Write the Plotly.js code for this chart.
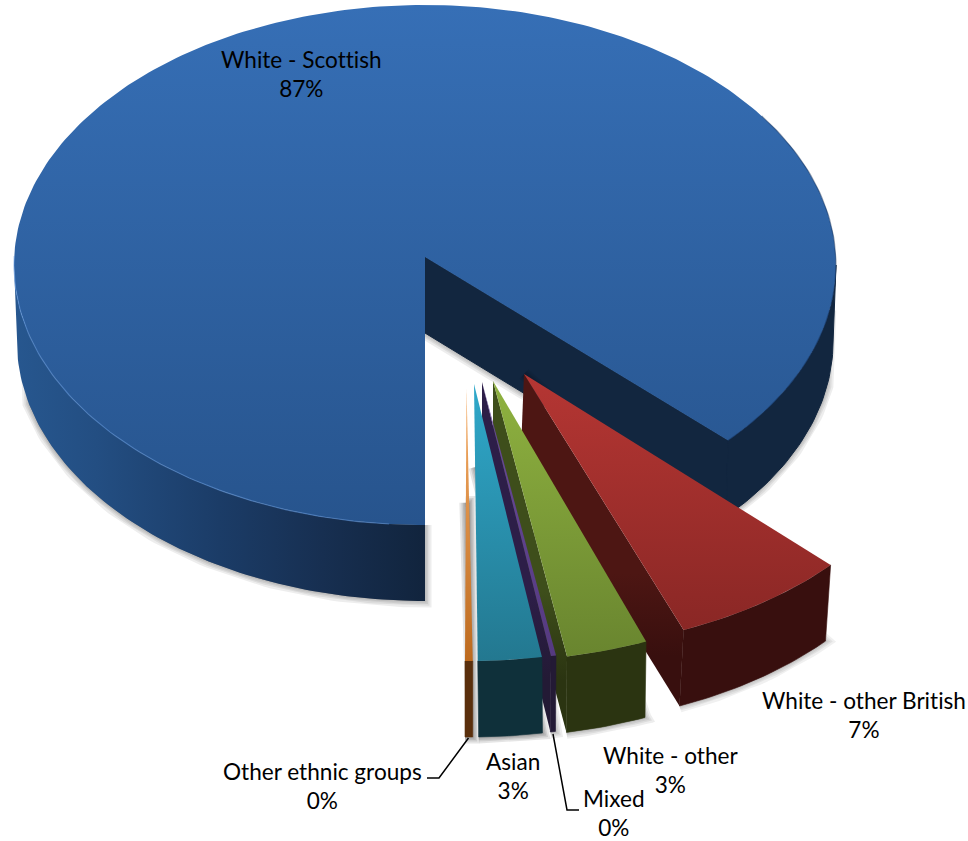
<!DOCTYPE html>
<html><head><meta charset="utf-8">
<script src="https://cdn.plot.ly/plotly-3.0.1.min.js"></script>
<style>html,body{margin:0;padding:0;background:#fff}#c{width:968px;height:841px}
svg text{font-variant-ligatures:none !important;font-feature-settings:"liga" 0,"clig" 0 !important}</style>
</head><body><div id="c"></div>
<script>
// ---- data ----
const categories = ["White - Scottish","White - other British","White - other","Mixed","Asian","Other ethnic groups"];
const values = [86.8, 7, 3.2, 0.2, 2.5, 0.3];

// ---- style / layout configuration ----
const topColors  = [["#366fb6","#27548d"],["#b53633","#8a2725"],["#8fb240","#69852f"],["#6a4a9e","#553a80"],["#2fa8ca","#237890"],["#f6ae68","#bd6a1e"]];
const innerColors= ["#12263f","#4d1613","#3e4e1b","#2d1e48","#14505f","#5a2f0c"];
const outerColors= ["#12263f","#380f0e","#2b3411","#231a35","#0f303a","#5a2f0c"];
const apexes   = [[425,257],[524,374],[493,381],[482,382],[474,384],[466.5,388]];
const centres  = [[425,265],[527.5,389.5],[490,401],[479,400],[470,401],[465,401]];
const wallDx   = [0,-3,0,0,1,0];
const shadowFrom = [0,0,0.55,0.6,0.3,0.42];
const shadowAlpha = [0.07,0.06,0.07,0.07,0.1,0.1];
const RX = 411, RY = 260, DEPTH = 76, BOTTOM_SCALE = 0.993;
const labelX = [301.5,864,670,614,513,322.5];
const labelY = [73.5,715,770,813,776,785.5];
const leaderOtherX=[468.5,439,427], leaderOtherY=[738,778,778];
const leaderMixedX=[553,567,579], leaderMixedY=[734,810,810];
const FONT = "Lato, Carlito, sans-serif", FONT_SIZE = 22.6;

// ---- geometry from the values ----
const total = values.reduce((a,b)=>a+b,0);
let cum = 90;
const spans = values.map(v=>{const s=cum; cum+=v/total*360; return [s,cum];});
const rad = d=>d*Math.PI/180;
function arcPts(i,a0,a1,bottom){
  const n=Math.max(2,Math.ceil(Math.abs(a1-a0))+1), xs=[], ys=[], c=centres[i];
  for(let k=0;k<n;k++){
    const a=rad(a0+(a1-a0)*k/(n-1));
    if(bottom){xs.push(c[0]+wallDx[i]+BOTTOM_SCALE*RX*Math.cos(a)); ys.push(c[1]+DEPTH+RY*Math.sin(a));}
    else{xs.push(c[0]+RX*Math.cos(a)); ys.push(c[1]+RY*Math.sin(a));}
  }
  return [xs,ys];
}
const traces=[];
function poly(xs,ys,fillcolor,extra){
  traces.push(Object.assign({type:'scatter',mode:'lines',x:xs.concat(xs[0]),y:ys.concat(ys[0]),fill:'toself',
    fillcolor:fillcolor,line:{width:0},hoverinfo:'skip',showlegend:false},extra||{}));
}
function shadow(xs,ys,alpha){
  [13,9,6,3].forEach(w=>{
    traces.push({type:'scatter',mode:'lines',x:xs.concat(xs[0]),y:ys.concat(ys[0]),fill:'toself',fillcolor:'rgba(120,120,120,0.25)',
      line:{width:w,color:'rgba(0,0,0,'+alpha+')'},hoverinfo:'skip',showlegend:false});
  });
}
function wallPoly(i,a0,a1){
  const t=arcPts(i,a0,a1,false), b=arcPts(i,a1,a0,true);
  return [t[0].concat(b[0]),t[1].concat(b[1])];
}
function innerPoly(i,ang){
  const t=arcPts(i,ang,ang,false), b=arcPts(i,ang,ang,true), A=apexes[i];
  return [[A[0],t[0][0],b[0][0],A[0]+wallDx[i]],[A[1],t[1][0],b[1][0],A[1]+DEPTH]];
}
function topFace(i,a0,a1){
  const t=arcPts(i,a0,a1,false), A=apexes[i];
  const ys=[A[1]].concat(t[1]);
  poly([A[0]].concat(t[0]),ys,topColors[i][0],{fillgradient:{type:'vertical',
    start:Math.min(...ys),stop:Math.max(...ys),
    colorscale:[[0,topColors[i][0]],[1,topColors[i][1]]]}});
}
function shadowPoly(i){
  const f=shadowFrom[i], A=apexes[i], e=arcPts(i,spans[i][1],spans[i][1],false), s=arcPts(i,spans[i][0],spans[i][0],false);
  const b=arcPts(i,spans[i][1],spans[i][0],true);
  const lx=A[0]+f*(e[0][0]-A[0]), ly=A[1]+f*(e[1][0]-A[1]);
  const rx=A[0]+f*(s[0][0]-A[0]), ry=A[1]+f*(s[1][0]-A[1]);
  return [[lx,rx].concat(b[0].slice().reverse(),b[0]),[ly,ry].concat(b[1].slice().reverse(),b[1])];
}

// main slice
const mainEnd = spans[0][1]-360;
const leftWall = wallPoly(0,90,180), rightWall = wallPoly(0,0,mainEnd), inner0 = innerPoly(0,mainEnd);
const leftShade = wallPoly(0,90,166), rightShade = wallPoly(0,10,mainEnd);
shadow(leftShade[0],leftShade[1],shadowAlpha[0]); shadow(rightShade[0],rightShade[1],shadowAlpha[0]); shadow(inner0[0],inner0[1],shadowAlpha[0]);
poly(leftWall[0],leftWall[1],'#1b3a63',{fillgradient:{type:'horizontal',start:14,stop:425,
  colorscale:[[0,'#27578f'],[0.2,'#234e82'],[0.5,'#1b3c67'],[0.75,'#172f51'],[1,'#11243d']]}});
poly(inner0[0],inner0[1],innerColors[0],{line:{width:1,color:innerColors[0]}});
poly(rightWall[0],rightWall[1],outerColors[0],{line:{width:1,color:outerColors[0]}});
topFace(0,spans[0][0],spans[0][1]);
const rimL = arcPts(0,95,182,false), rimR = arcPts(0,-35,mainEnd,false);
traces.push({type:'scatter',mode:'lines',x:rimL[0],y:rimL[1],line:{width:1.2,color:'rgba(95,150,220,0.55)'},hoverinfo:'skip',showlegend:false});
traces.push({type:'scatter',mode:'lines',x:rimR[0],y:rimR[1],line:{width:1.2,color:'rgba(18,45,85,0.45)'},hoverinfo:'skip',showlegend:false});

// exploded slices, back to front
for(let i=1;i<values.length;i++){
  const s=shadowPoly(i);
  shadow(s[0],s[1],shadowAlpha[i]);
}
for(let i=1;i<values.length;i++){
  const w=wallPoly(i,spans[i][0],spans[i][1]), n=innerPoly(i,spans[i][1]);
  // the inner wall fades into the outer wall's colour towards the front
  const ymin=Math.min(...n[1]), ymax=Math.max(...n[1]);
  poly(n[0],n[1],innerColors[i],{fillgradient:{type:'vertical',start:ymin,stop:ymax,
    colorscale:[[0,innerColors[i]],[0.6,innerColors[i]],[0.85,outerColors[i]],[1,outerColors[i]]]}});
  poly(w[0],w[1],outerColors[i],{line:{width:0.6,color:outerColors[i]}});
  topFace(i,spans[i][0],spans[i][1]);
}
// leader lines
[[leaderOtherX,leaderOtherY],[leaderMixedX,leaderMixedY]].forEach(l=>{
  traces.push({type:'scatter',mode:'lines',x:l[0],y:l[1],line:{width:1.5,color:'#000'},hoverinfo:'skip',showlegend:false});
});

const annotations = categories.map((c,i)=>({
  x:labelX[i],y:labelY[i],xref:'x',yref:'y',showarrow:false,xanchor:'center',yanchor:'middle',align:'center',
  text:c+'<br>'+Math.round(values[i])+'%',font:{family:FONT,size:FONT_SIZE,color:'#000'}
}));

Plotly.newPlot('c',traces,{
  width:968,height:841,margin:{l:0,r:0,t:0,b:0},showlegend:false,
  paper_bgcolor:'#fff',plot_bgcolor:'#fff',
  xaxis:{range:[0,968],visible:false,fixedrange:true},
  yaxis:{range:[841,0],visible:false,fixedrange:true},
  annotations:annotations
},{displayModeBar:false,staticPlot:true});
</script></body></html>
